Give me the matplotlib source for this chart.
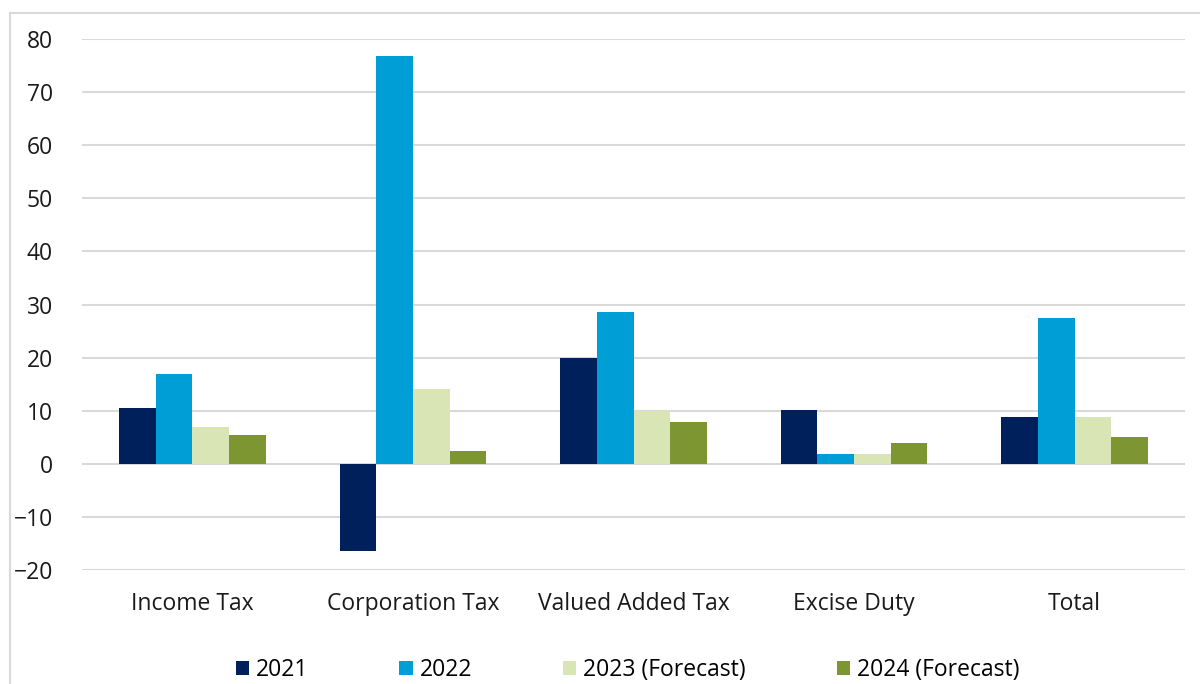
import matplotlib.pyplot as plt
from matplotlib.patches import Rectangle
import numpy as np

plt.rcParams['font.family'] = ['Open Sans', 'DejaVu Sans']

categories = ["Income Tax", "Corporation Tax", "Valued Added Tax", "Excise Duty", "Total"]
series = ["2021", "2022", "2023 (Forecast)", "2024 (Forecast)"]
v2021 = [10.6, -16.4, 20.0, 10.2, 8.9]
v2022 = [17.0, 76.8, 28.5, 1.9, 27.5]
v2023 = [7.0, 14.0, 10.0, 1.9, 8.9]
v2024 = [5.5, 2.5, 7.9, 4.0, 5.1]
colors = ["#00205B", "#009ED6", "#DAE5B6", "#7E9632"]

fig = plt.figure(figsize=(12, 6.84), dpi=100)
ax = fig.add_axes([82 / 1200, 1 - 570 / 684, 1103 / 1200, 531 / 684])

# outer chart border
fig.patches.append(Rectangle((10 / 1200, -0.05), 1.1, 1 - 13 / 684 + 0.05,
                             transform=fig.transFigure, fill=False,
                             edgecolor="#D9D9D9", linewidth=1.5))

x = np.arange(len(categories))
w = 0.166
for i, (vals, lab) in enumerate(zip([v2021, v2022, v2023, v2024], series)):
    ax.bar(x + (i - 1.5) * w, vals, w, color=colors[i], label=lab, zorder=3)

ax.set_xlim(-0.5, len(categories) - 0.5)
ax.set_ylim(-20, 80)
ax.set_yticks(range(-20, 81, 10))
ax.grid(axis="y", color="#D9D9D9", linewidth=1.5, zorder=0)
for s in ax.spines.values():
    s.set_visible(False)
ax.tick_params(length=0, labelsize=16.5, colors="#1a1a1a")
ax.tick_params(axis="y", pad=21)
ax.set_xticks(x)
ax.set_xticklabels(categories)
ax.tick_params(axis="x", pad=16)

handles, labels = ax.get_legend_handles_labels()
fig.legend(handles, labels, loc="center", bbox_to_anchor=(0.523, 1 - 670 / 684),
           ncol=4, frameon=False, fontsize=16.5, handlelength=0.6,
           handleheight=0.6, handletextpad=0.3, columnspacing=3.95)

fig.savefig("out.png", dpi=100)
